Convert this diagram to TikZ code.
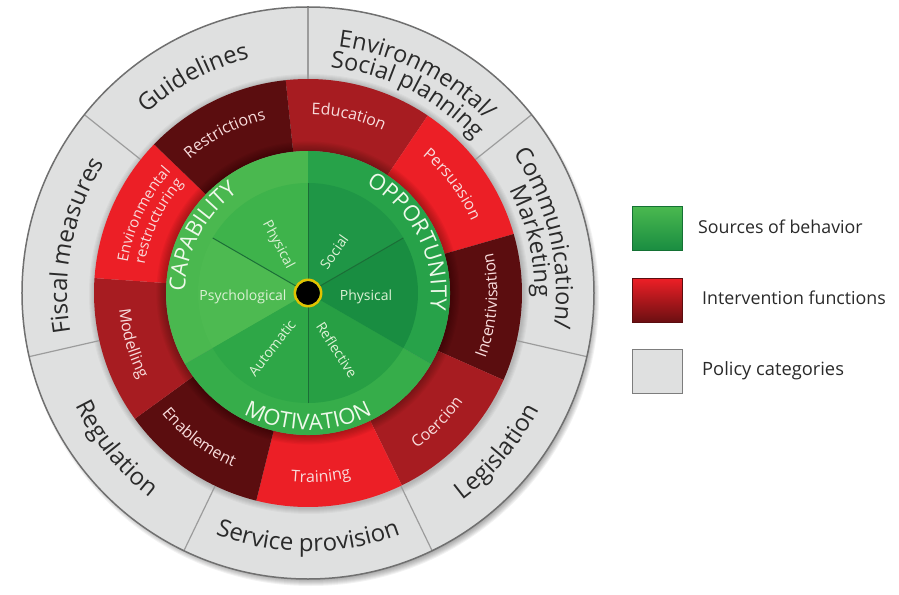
\documentclass[tikz,border=0pt]{standalone}
\usepackage{fontspec}
\setmainfont{Open Sans}
\usetikzlibrary{decorations.text}
\definecolor{greyring}{HTML}{DFE0E0}
\definecolor{greyline}{HTML}{9C9C9C}
\definecolor{greyedge}{HTML}{707070}
\definecolor{greytxt}{HTML}{2A2A2A}
\definecolor{darkred}{HTML}{5B0D0F}
\definecolor{midred}{HTML}{A71C21}
\definecolor{brightred}{HTML}{EC1F26}
\definecolor{redtxt}{HTML}{F8DCDC}
\definecolor{capband}{HTML}{4AB84F}
\definecolor{oppband}{HTML}{27A249}
\definecolor{motband}{HTML}{36AD4A}
\definecolor{capphys}{HTML}{3EB34B}
\definecolor{capsych}{HTML}{4DBA51}
\definecolor{motauto}{HTML}{2EA747}
\definecolor{motrefl}{HTML}{279F44}
\definecolor{oppphys}{HTML}{198D41}
\definecolor{oppsoc}{HTML}{1F9646}
\definecolor{greenline}{HTML}{1B6E37}
\definecolor{greentxt}{HTML}{DDF2D6}
\definecolor{bandtxt}{HTML}{EEF9EA}
\definecolor{dotring}{HTML}{E2C200}
\newcommand{\arctext}[4]{%
  \path[decorate,decoration={text along path,text align=center,text={#4}}]
    (#1:#3) arc[start angle=#1,end angle=#2,radius=#3];}
\newcommand{\gA}{\fontsize{24}{24}\selectfont\color{greytxt}}
\newcommand{\gB}{\fontsize{23.5}{23.5}\selectfont\color{greytxt}}
\newcommand{\rA}{\fontsize{16}{16}\selectfont\color{redtxt}}
\newcommand{\rB}{\fontsize{15}{15}\selectfont\color{redtxt}}
\newcommand{\cA}{\fontsize{22}{22}\selectfont\color{bandtxt}}
\tikzset{
  innerlbl/.style={text=greentxt,font=\fontsize{14}{14}\selectfont,inner sep=0pt},
  legbox/.style={minimum width=50,minimum height=44,inner sep=0pt},
  legtxt/.style={anchor=west,text=greytxt,font=\fontsize{17.8}{17.8}\selectfont,inner sep=0pt}
}
\begin{document}
\begin{tikzpicture}[x=1pt,y=1pt]
\useasboundingbox (-308,-301) rectangle (591,293);
\fill[white] (-308,-301) rectangle (591,293);
% drop shadow
\foreach \k in {0,...,9} \fill[black,opacity=0.05] (3,-5) circle ({279+\k});
% grey ring
\fill[greyring] (0,0) circle (286);
\foreach \k in {1,...,6} \fill[black,opacity=0.03] (1,-1) circle ({214+\k});
\foreach \a in {90,38.57,-12.86,-64.29,-115.71,-167.14,141.43}
  \draw[greyline,line width=1.2] (\a:214) -- (\a:286);
\draw[greyedge,line width=1.5] (0,0) circle (286);
% red ring
\foreach \s/\c in {56/midred,16/brightred,-24/darkred,-64/midred,-104/brightred,-144/darkred,176/midred,136/brightred,96/darkred}
  \fill[\c] (\s:214) arc[start angle=\s,end angle=\s+40,radius=214] -- (\s+40:142) arc[start angle=\s+40,end angle=\s,radius=142] -- cycle;
\foreach \k in {1,...,8} \fill[black,opacity=0.035] (0,0) circle ({142+\k*1.2});
% green
\fill[capband] (0,0) -- (90:142) arc[start angle=90,end angle=210,radius=142] -- cycle;
\fill[motband] (0,0) -- (210:142) arc[start angle=210,end angle=330,radius=142] -- cycle;
\fill[oppband] (0,0) -- (330:142) arc[start angle=330,end angle=450,radius=142] -- cycle;
\foreach \s/\c in {90/capphys,150/capsych,210/motauto,270/motrefl,330/oppphys,30/oppsoc}
  \fill[\c] (0,0) -- (\s:110) arc[start angle=\s,end angle=\s+60,radius=110] -- cycle;
\foreach \a in {90,150,270,30} \draw[greenline,line width=1] (0,0) -- (\a:110);
% centre
\fill[black] (0,0) circle (12);
\draw[dotring,line width=2.5] (0,0) circle (13.2);
% grey labels
\arctext{143}{93}{241.5}{|\gA|Guidelines}
\arctext{193.5}{143.5}{241}{|\gA|Fiscal measures}
\arctext{-65}{-15}{258.5}{|\gA|Legislation}
\arctext{-115}{-65}{258.5}{|\gA|Service provision}
\arctext{-166}{-116}{258.5}{|\gA|Regulation}
\arctext{88.5}{38.5}{248}{|\gB|Environmental/}
\arctext{88.5}{38.5}{226.5}{|\gB|Social planning}
\arctext{38}{-12}{248}{|\gB|Communication/}
\arctext{38}{-12}{226.5}{|\gB|Marketing}
% red labels
\arctext{96}{58}{178.7}{|\rA|Education}
\arctext{56}{18}{178.7}{|\rA|Persuasion}
\arctext{-23}{15}{189.3}{|\rA|Incentivisation}
\arctext{-64}{-26}{189.3}{|\rA|Coercion}
\arctext{-105}{-67}{189.3}{|\rA|Training}
\arctext{-146}{-108}{189.3}{|\rA|Enablement}
\arctext{177}{215}{189.3}{|\rA|Modelling}
\arctext{174}{135}{182.8}{|\rB|Environmental}
\arctext{174}{135}{165.8}{|\rB|restructuring}
\arctext{136.5}{98.5}{178.7}{|\rA|Restrictions}
% green band labels
\arctext{197}{107}{123}{|\cA|CAPABILITY}
\arctext{72}{-18}{123}{|\cA|OPPORTUNITY}
\arctext{225}{315}{137}{|\cA|MOTIVATION}
% inner labels
\node[innerlbl,rotate=-62] (capphy) at (-30,48) {Physical};
\node[innerlbl,rotate=55] (oppsocl) at (26,41) {Social};
\node[innerlbl] (oppphy) at (58,-4) {Physical};
\node[innerlbl] (capsy) at (-65,-4) {Psychological};
\node[innerlbl,rotate=52] (motau) at (-36,-55) {Automatic};
\node[innerlbl,rotate=-57] (motre) at (29,-57) {Reflective};
% legend
\node[legbox,top color=capband,bottom color=oppphys,draw=oppphys!80!black,line width=0.4] (lg1) at (349,64.5) {};
\node[legbox,top color=brightred,bottom color=darkred!90!brightred,draw=darkred,line width=0.4] (lg2) at (349,-7.5) {};
\node[legbox,fill=greyring,draw=greyline!80!black,line width=0.8] (lg3) at (349,-78.5) {};
\node[legtxt] (lt1) at (390,66) {Sources of behavior};
\node[legtxt] (lt2) at (394,-5) {Intervention functions};
\node[legtxt,font=\fontsize{18.3}{18.3}\selectfont] (lt3) at (394,-78) {Policy categories};
\end{tikzpicture}
\end{document}
